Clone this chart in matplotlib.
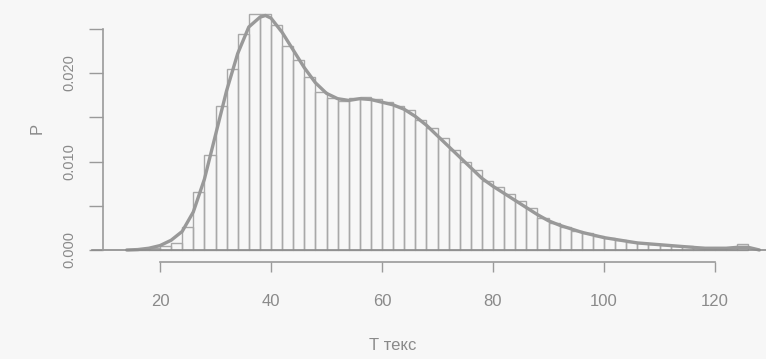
import matplotlib
matplotlib.use("Agg")
import matplotlib.pyplot as plt
import numpy as np

plt.rcParams['font.family'] = ['Liberation Sans', 'DejaVu Sans']

# Histogram data (bin left edges, width 2, density values)
bin_left = list(range(14, 126, 2))
bin_density = [0.00005, 0.0001, 0.0002, 0.0004, 0.0008, 0.0026, 0.0065, 0.0107,
               0.0163, 0.0205, 0.0244, 0.0267, 0.0267, 0.0254, 0.0230, 0.0215,
               0.0196, 0.0178, 0.0172, 0.0168, 0.0172, 0.0173, 0.0171, 0.0167,
               0.0163, 0.0158, 0.0147, 0.0138, 0.0126, 0.0113, 0.0100, 0.0090,
               0.0078, 0.0071, 0.0063, 0.0055, 0.0047, 0.0036, 0.0031, 0.0026,
               0.0022, 0.0019, 0.0016, 0.0013, 0.0011, 0.0009, 0.0008, 0.0007,
               0.0006, 0.0005, 0.0004, 0.0003, 0.0002, 0.0002, 0.0002, 0.0007]
bin_width = 2

# Density curve
curve_x = [14, 16, 18, 20, 22, 24, 26, 28, 30, 32, 34, 36, 38, 39, 40, 42, 44, 46,
           48, 50, 52, 54, 56, 58, 60, 62, 64, 66, 68, 70, 72, 74, 76, 78, 80,
           82, 84, 86, 88, 90, 92, 94, 96, 98, 100, 102, 104, 106, 108, 110,
           112, 114, 116, 118, 120, 122, 124, 126, 128]
curve_y = [0.0, 0.00005, 0.0002, 0.0005, 0.0011, 0.0021, 0.0043, 0.0080, 0.0130, 0.0180,
           0.0222, 0.0252, 0.0263, 0.0265, 0.0262, 0.0246, 0.0226, 0.0206,
           0.0189, 0.0177, 0.0171, 0.0169, 0.0171, 0.0170, 0.0167, 0.0164,
           0.0159, 0.0151, 0.0141, 0.0129, 0.0117, 0.0105, 0.0093, 0.0081,
           0.0072, 0.0064, 0.0056, 0.0048, 0.0040, 0.0033, 0.0028, 0.0024,
           0.0020, 0.0017, 0.0014, 0.0012, 0.0010, 0.0008, 0.0007, 0.0006,
           0.0005, 0.0004, 0.0003, 0.0002, 0.0002, 0.0002, 0.0003, 0.0003,
           0.0]

x_ticks = [20, 40, 60, 80, 100, 120]
y_ticks = [0.000, 0.005, 0.010, 0.015, 0.020, 0.025]
y_labels = ['0.000', '', '0.010', '', '0.020', '']

W, H = 766, 359
fig = plt.figure(figsize=(W / 100, H / 100), dpi=100)
bg = '#f7f7f7'
fig.patch.set_facecolor(bg)

left, right, bottom, top = 103, 766, 262, 5
ax = fig.add_axes([left / W, 1 - bottom / H, (right - left) / W, (bottom - top) / H])
ax.set_facecolor(bg)

x0 = 20 + (left - 160) / 5.55
x1 = 20 + (right - 160) / 5.55
y_per_px = 1 / 8850
ax.set_xlim(x0, x1)
ax.set_ylim(-(bottom - 250) * y_per_px, (250 - top) * y_per_px)

gray = '#9a9a9a'
ax.bar(bin_left, bin_density, width=bin_width, align='edge', fill=False,
       edgecolor='#a8a8a8', linewidth=1.0)
ax.plot(curve_x, curve_y, color='#999999', linewidth=2.4, solid_capstyle='round')

# zero line
ax.plot([20 + (92 - 160) / 5.55, x1 + 2], [0, 0], color='#8c8c8c', linewidth=1.2,
        clip_on=False)

for s in ['top', 'right']:
    ax.spines[s].set_visible(False)
ax.spines['left'].set_bounds(0, 0.025)
ax.spines['bottom'].set_bounds(20, 120)
for s in ['left', 'bottom']:
    ax.spines[s].set_color(gray)
    ax.spines[s].set_linewidth(1.2)

ax.set_xticks(x_ticks)
ax.set_xticklabels([str(t) for t in x_ticks], fontsize=12, color='#8a8a8a')
ax.set_yticks(y_ticks)
ax.set_yticklabels(y_labels, fontsize=10.5, color='#8a8a8a', rotation=90, va='center')
ax.tick_params(axis='x', length=7, width=1, color=gray, pad=16)
ax.tick_params(axis='y', length=10, width=1, color=gray, pad=9)

fig.text(393 / W, 1 - 345 / H, 'Т текс', fontsize=12, color='#8a8a8a',
         ha='center', va='center')
fig.text(37 / W, 1 - 128 / H, 'P', fontsize=12, color='#8a8a8a',
         ha='center', va='center', rotation=90)

fig.savefig('out.png', dpi=100, facecolor=bg)
